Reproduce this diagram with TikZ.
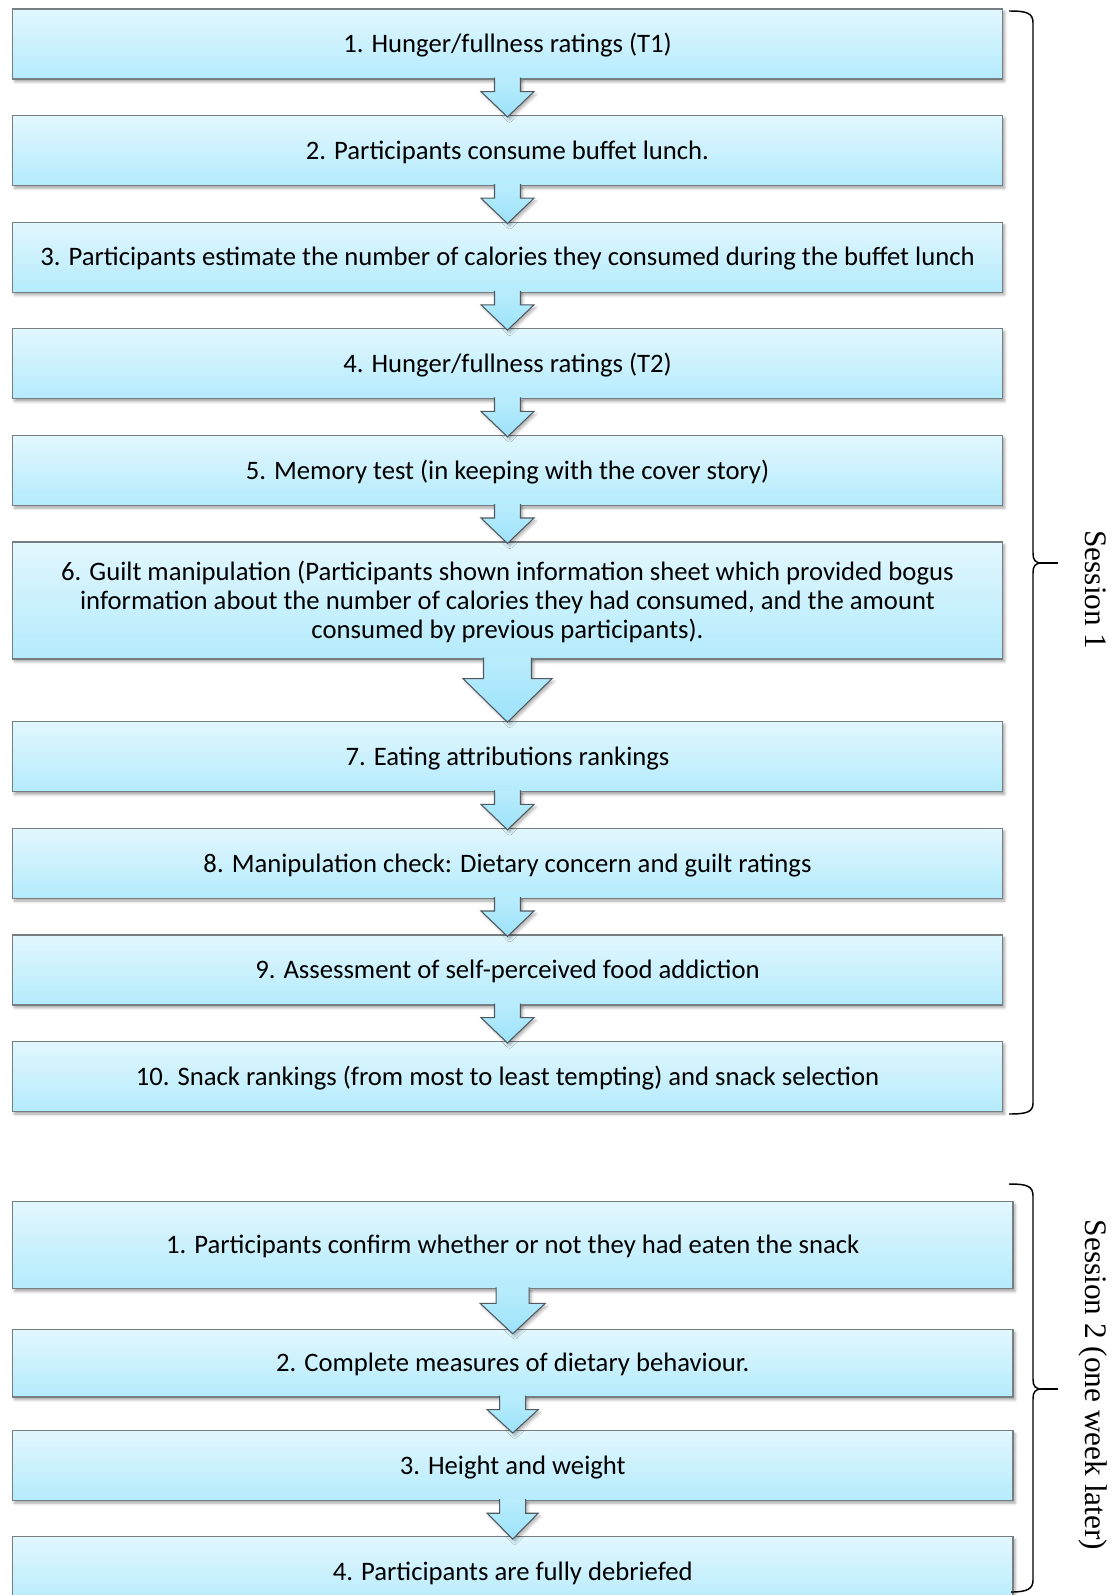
\documentclass[tikz,border=0pt]{standalone}
\usepackage{fontspec}
\setmainfont{Carlito}
\newfontfamily\serifface{Liberation Serif}
\usetikzlibrary{calc,shadows.blur}

\definecolor{boxtop}{RGB}{226,247,254}
\definecolor{boxbot}{RGB}{180,235,252}
\definecolor{boxedge}{RGB}{118,126,130}
\definecolor{arrtop}{RGB}{186,237,252}
\definecolor{arrbot}{RGB}{156,226,250}
\definecolor{arredge}{RGB}{78,90,96}

\tikzset{
  stepbox/.style={draw=boxedge, line width=0.9pt, top color=boxtop, bottom color=boxbot,
    minimum width=742.5pt, minimum height=52.5pt, inner sep=0pt, align=center,
    font=\fontsize{20}{21.75}\selectfont,
    blur shadow={shadow xshift=1.6pt, shadow yshift=-2pt, shadow blur radius=2pt, shadow opacity=35}},
  oneline/.style={text height=17pt, text depth=4pt},
  widebox/.style={minimum width=750.4pt},
  flowarrow/.style={draw=arredge, line width=0.8pt, top color=arrtop, bottom color=arrbot,
    blur shadow={shadow xshift=1.6pt, shadow yshift=-2pt, shadow blur radius=2pt, shadow opacity=30}},
  brace/.style={draw=black, line width=1.1pt},
  sessionlabel/.style={font=\serifface\fontsize{23.5}{26}\selectfont, rotate=-90, inner sep=0pt}
}

% block arrow from the bottom of #1 to the top of #2
% #3 half stem width, #4 half head width, #5 head base below #1, #6 tip below top of #2
\newcommand\blockarrow[6]{%
  \path[flowarrow] ($(#1.south)+(-#3,-2)$) -- ($(#1.south)+(-#3,#5)$) -- ($(#1.south)+(-#4,#5)$)
    -- ($(#2.north)+(0,#6)$) -- ($(#1.south)+(#4,#5)$) -- ($(#1.south)+(#3,#5)$) -- ($(#1.south)+(#3,-2)$);
}

\begin{document}
\begin{tikzpicture}[x=0.75pt,y=-0.75pt]
\useasboundingbox (0,0) rectangle (1116,1595);
\clip (0,0) rectangle (1116,1595);

% Session 1
\node[stepbox, oneline] (a1) at (507.5,44) {1. Hunger/fullness ratings (T1)};
\node[stepbox, oneline] (a2) at (507.5,150.6) {2. Participants consume buffet lunch.};
\node[stepbox, oneline] (a3) at (507.5,257.2) {3. Participants estimate the number of calories they consumed during the buffet lunch};
\node[stepbox, oneline] (a4) at (507.5,363.8) {4. Hunger/fullness ratings (T2)};
\node[stepbox, oneline] (a5) at (507.5,470.4) {5. Memory test (in keeping with the cover story)};
\node[stepbox, minimum height=87.75pt] (a6) at (507.5,600.5) {\rule{0pt}{16pt}6. Guilt manipulation (Participants shown information sheet which provided bogus\\information about the number of calories they had consumed, and the amount\\consumed by previous participants).};
\node[stepbox, oneline] (a7) at (507.5,756.8) {7. Eating attributions rankings};
\node[stepbox, oneline] (a8) at (507.5,863.4) {8. Manipulation check: Dietary concern and guilt ratings};
\node[stepbox, oneline] (a9) at (507.5,970) {9. Assessment of self-perceived food addiction};
\node[stepbox, oneline] (a10) at (507.5,1076.6) {10. Snack rankings (from most to least tempting) and snack selection};

% Session 2
\node[stepbox, oneline, widebox, minimum height=65.25pt] (b1) at (512.7,1245.3) {1. Participants confirm whether or not they had eaten the snack};
\node[stepbox, oneline, widebox, minimum height=50.8pt] (b2) at (512.7,1363.2) {2. Complete measures of dietary behaviour.};
\node[stepbox, oneline, widebox] (b3) at (512.7,1465.6) {3. Height and weight};
\node[stepbox, oneline, widebox] (b4) at (512.7,1571.7) {4. Participants are fully debriefed};

% connectors
\blockarrow{a1}{a2}{13}{26.5}{12}{2}
\blockarrow{a2}{a3}{13}{26.5}{12}{2}
\blockarrow{a3}{a4}{13}{26.5}{12}{2}
\blockarrow{a4}{a5}{13}{26.5}{12}{2}
\blockarrow{a5}{a6}{13}{26.5}{12}{2}
\blockarrow{a6}{a7}{24}{44.5}{19}{1}
\blockarrow{a7}{a8}{13}{26.5}{12}{2}
\blockarrow{a8}{a9}{13}{26.5}{12}{2}
\blockarrow{a9}{a10}{13}{26.5}{12}{2}
\blockarrow{b1}{b2}{16.5}{32.5}{14}{5}
\blockarrow{b2}{b3}{13}{25.5}{12}{3}
\blockarrow{b3}{b4}{13}{25.5}{12}{3}

% braces
\draw[brace] (1009,11) .. controls (1027,11) and (1033,13) .. (1033,23) -- (1033,553)
  .. controls (1033,560) and (1035,563) .. (1042,563)
  .. controls (1035,563) and (1033,566) .. (1033,573) -- (1033,1103)
  .. controls (1033,1112) and (1027,1114) .. (1009,1114);
\draw[brace] (1042,563) -- (1058,563);
\draw[brace] (1009,1184) .. controls (1027,1184) and (1033,1186) .. (1033,1196) -- (1033,1379)
  .. controls (1033,1386) and (1035,1389) .. (1042,1389)
  .. controls (1035,1389) and (1033,1392) .. (1033,1399) -- (1033,1580)
  .. controls (1033,1589) and (1027,1592) .. (1011,1592);
\draw[brace] (1042,1389) -- (1058,1389);

\node[sessionlabel] (s1) at (1096,590) {Session 1};
\node[sessionlabel] (s2) at (1093,1385) {Session 2 (one week later)};
\end{tikzpicture}
\end{document}
